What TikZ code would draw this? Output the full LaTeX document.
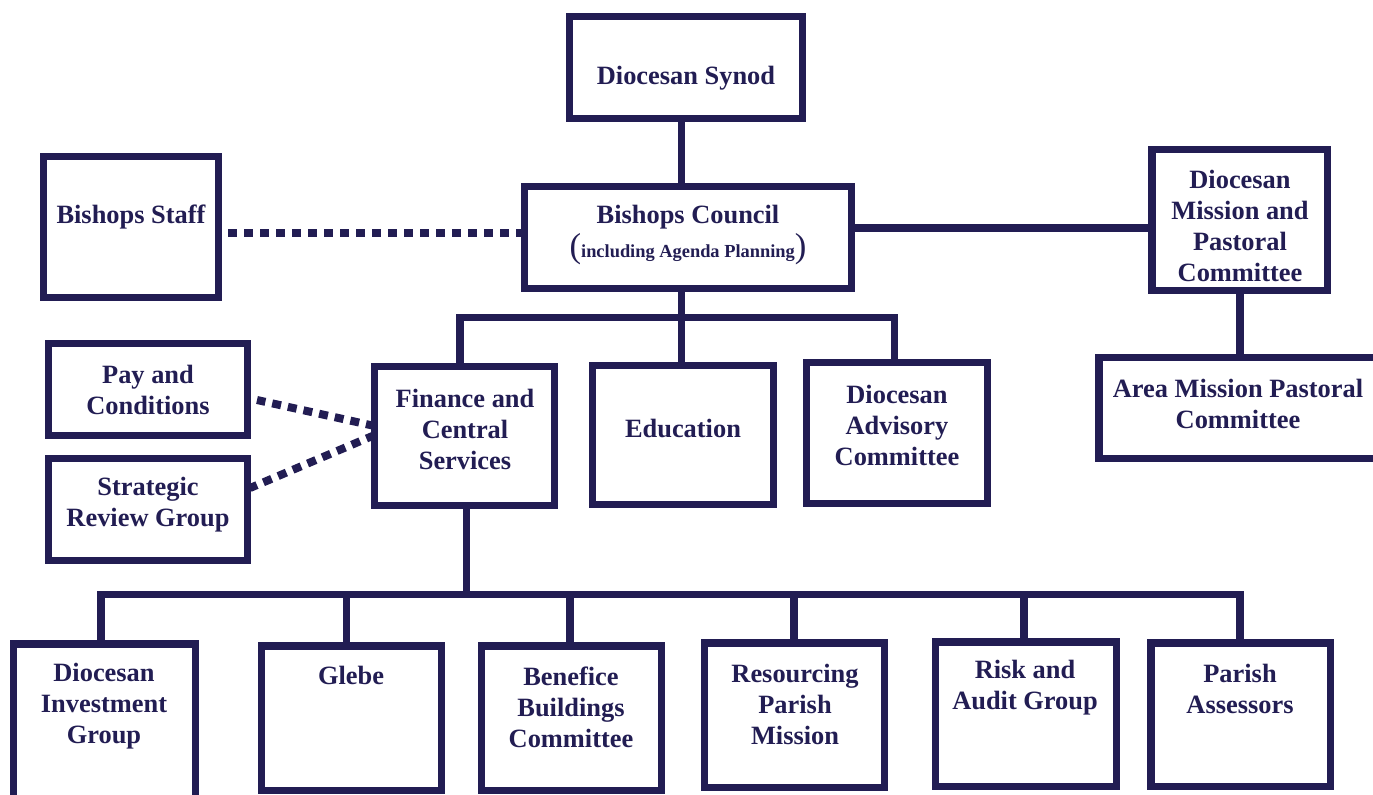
\documentclass[tikz,border=0pt]{standalone}
\usepackage{fontspec}
\setmainfont{Liberation Serif}
\usetikzlibrary{backgrounds}
\definecolor{navy}{RGB}{34,29,83}
\tikzset{
  box/.style={draw=navy, line width=5.6pt, inner sep=0pt, outer sep=0pt, fill=white},
  lbl/.style={text=navy, font=\bfseries\fontsize{19.8}{23.25}\selectfont, align=center, inner sep=0pt, yshift=-1.5pt},
  link/.style={draw=navy, line width=5.6pt, line join=miter},
  dotlink/.style={draw=navy, line width=6pt, dash pattern=on 6.75pt off 5.25pt},
}
\newcommand\orgbox[5]{%
  \node[box, minimum width={(#4-#2-7.5)*0.75pt}, minimum height={(#5-#3-7.5)*0.75pt}]
    (#1) at ({(#2+#4)/2},{(#3+#5)/2}) {};}
\begin{document}
\begin{tikzpicture}[x=0.75pt,y=-0.75pt]
\useasboundingbox (0,0) rectangle (1373,794);
\clip (0,0) rectangle (1373,794);

% boxes
\orgbox{synod}{566}{13}{806}{122}
\orgbox{staff}{40}{153}{222}{301}
\orgbox{council}{521}{183}{855}{292}
\orgbox{dmpc}{1148}{146}{1331}{294}
\orgbox{area}{1095}{354}{1420}{462}
\orgbox{pay}{45}{340}{251}{439}
\orgbox{strat}{45}{455}{251}{564}
\orgbox{fin}{371}{363}{558}{509}
\orgbox{edu}{589}{362}{777}{508}
\orgbox{dac}{803}{359}{991}{507}
\orgbox{dig}{10}{640}{199}{830}
\orgbox{glebe}{258}{642}{445}{794}
\orgbox{benef}{478}{642}{665}{794}
\orgbox{resour}{701}{639}{888}{791}
\orgbox{risk}{932}{638}{1120}{790}
\orgbox{parish}{1147}{639}{1334}{790}

% texts
\node[lbl] (tsynod) at (686,76) {Diocesan Synod};
\node[lbl] (tstaff) at (131,215) {Bishops Staff};
\node[lbl] (tcouncil) at (688,215) {Bishops Council};
\node[lbl] (tcouncil2) at (688,247) {{\mdseries\fontsize{26}{26}\selectfont(}{\fontsize{13.8}{14}\selectfont including Agenda Planning}{\mdseries\fontsize{26}{26}\selectfont)}};
\node[lbl] (tdmpc) at (1240,224) {Diocesan\\Mission and\\Pastoral\\Committee};
\node[lbl] (tarea) at (1238,401.5) {Area Mission Pastoral\\Committee};
\node[lbl] (tpay) at (148,388) {Pay and\\Conditions};
\node[lbl] (tstrat) at (148,503) {Strategic\\Review Group};
\node[lbl] (tfin) at (465,427) {Finance and\\Central\\Services};
\node[lbl] (tedu) at (683,426) {Education};
\node[lbl] (tdac) at (897,423) {Diocesan\\Advisory\\Committee};
\node[lbl] (tdig) at (104,704) {Diocesan\\Investment\\Group};
\node[lbl] (tglebe) at (351,673) {Glebe};
\node[lbl] (tbenef) at (571,705) {Benefice\\Buildings\\Committee};
\node[lbl] (tresour) at (795,702) {Resourcing\\Parish\\Mission};
\node[lbl] (trisk) at (1025,685.5) {Risk and\\Audit Group};
\node[lbl] (tparish) at (1240,686.5) {Parish\\Assessors};

% connectors
\begin{scope}[on background layer]
\coordinate (cbus) at (681.5,317.5);
\coordinate (fbus) at (466.5,594.5);
\draw[link] (681.5,0 |- synod.south) -- (681.5,0 |- council.north);
\draw[link] (council.east |- 0,228) -- (dmpc.west |- 0,228);
\draw[link] (1240,0 |- dmpc.south) -- (1240,0 |- area.north);
\draw[dotlink] (council.west |- 0,232.5) -- (225,232.5);
% council bus
\draw[link] (681.5,0 |- council.south) -- (cbus);
\draw[link] (460,0 |- fin.north) -- (460,0 |- cbus) -- (894.5,0 |- cbus) -- (894.5,0 |- dac.north);
\draw[link] (cbus) -- (681.5,0 |- edu.north);
% finance bus
\draw[link] (466.5,0 |- fin.south) -- (fbus);
\draw[link] (101,0 |- dig.north) -- (101,0 |- fbus) -- (1240,0 |- fbus) -- (1240,0 |- parish.north);
\draw[link] (346.5,0 |- fbus) -- (346.5,0 |- glebe.north);
\draw[link] (570,0 |- fbus) -- (570,0 |- benef.north);
\draw[link] (794,0 |- fbus) -- (794,0 |- resour.north);
\draw[link] (1024,0 |- fbus) -- (1024,0 |- risk.north);
% dotted side links
\draw[dotlink] (fin.west |- 0,426) -- (257,400);
\draw[dotlink] (fin.west |- 0,435) -- (250,488);
\end{scope}
\end{tikzpicture}
\end{document}
